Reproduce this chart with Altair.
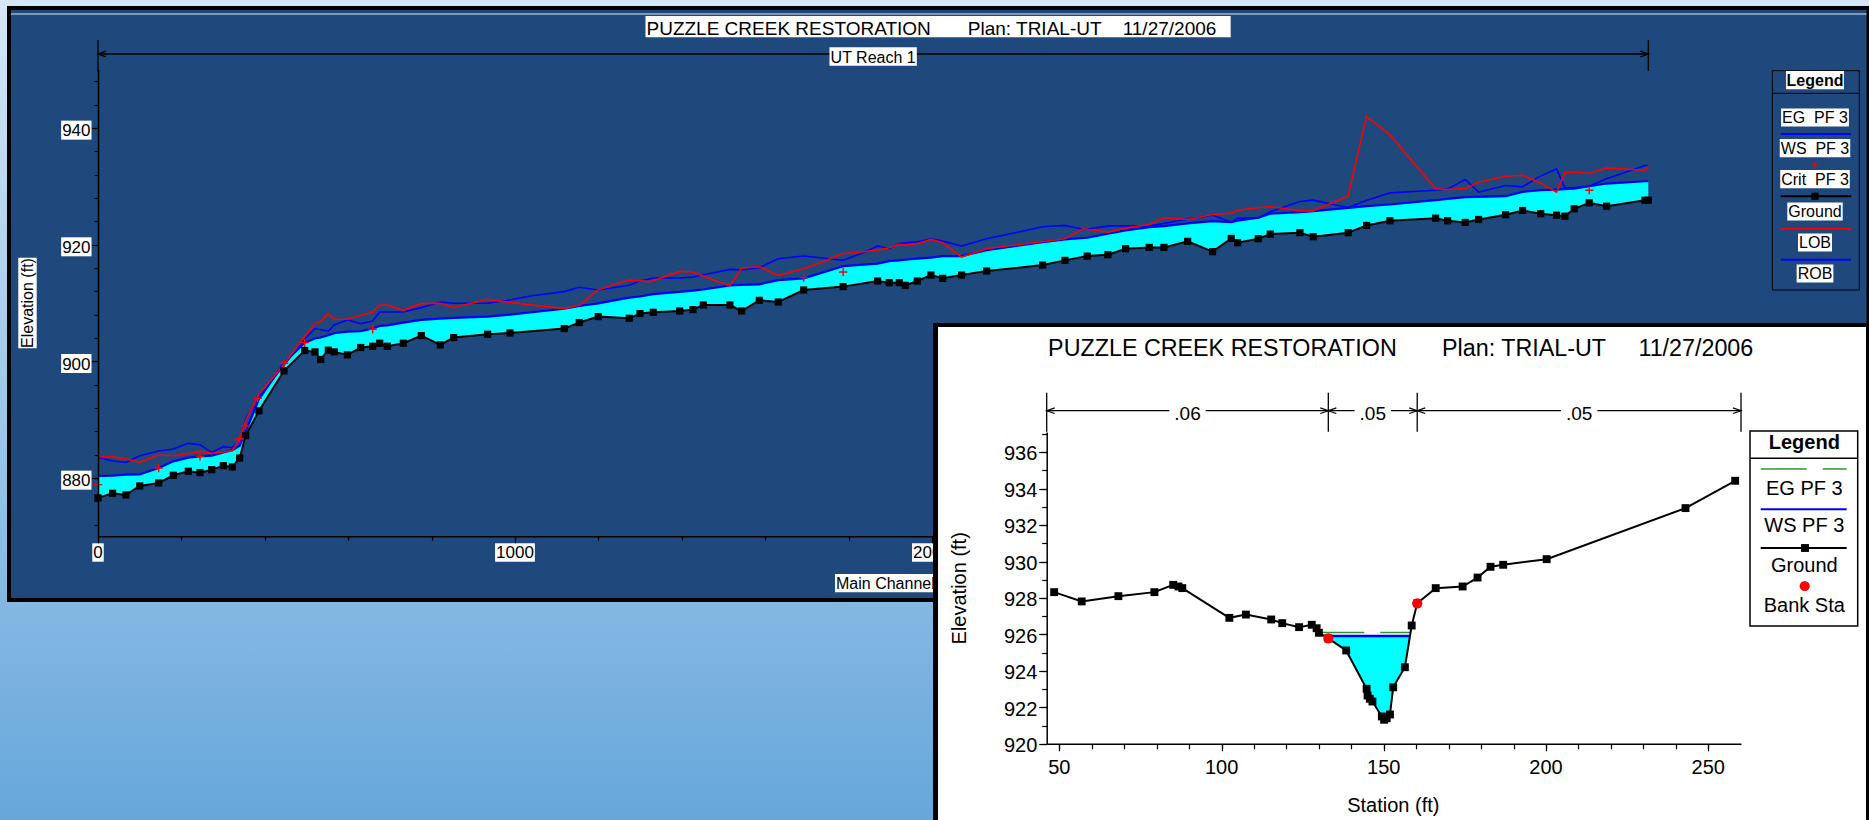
import altair as alt
import pandas as pd

FONT = "Liberation Sans"
W, H = 1869, 820

# ===================== Profile (main channel) data =====================
prof_station = [0, 35, 67, 100, 145.5, 180.6, 216.6, 244.6, 272.7, 300.5,
                322, 339.7, 354, 386, 446, 495.7, 520.4, 534, 552.3, 566.7,
                598, 630, 658.8, 675.5, 693.8, 732.2, 775.3, 821, 853, 934.5,
                988, 1118.2, 1154.2, 1199.8, 1274.1, 1299.8, 1331.7, 1395, 1426.9, 1451.6,
                1515.6, 1543.6, 1585.9, 1631.4, 1692.3, 1787, 1869.6, 1897.6, 1921.6, 1936,
                1964.8, 1997.6, 2025.7, 2071.2, 2131.2, 2265.5, 2319, 2372.4, 2422, 2464.5,
                2521.1, 2556.4, 2613.2, 2673.1, 2717.8, 2733.1, 2782.5, 2811.3, 2882.5, 2914.4,
                2998.3, 3042.4, 3098.3, 3207.9, 3236.7, 3278.9, 3311, 3375.8, 3416.5, 3460,
                3498, 3518, 3540.3, 3576.3, 3618, 3709.8, 3718]
prof_ground = [876.58, 877.38, 877.09, 878.63, 879.14, 880.46, 881.15, 880.91, 881.42, 882.11,
               881.88, 883.42, 887.24, 891.51, 898.36, 901.85, 901.61, 900.31, 901.9, 901.61,
               901.1, 902.36, 902.58, 903.1, 902.58, 903.1, 904.41, 902.81, 904.07, 904.64,
               904.86, 905.61, 906.64, 907.66, 907.37, 908.18, 908.4, 908.62, 908.86, 909.65,
               909.65, 908.62, 910.45, 910.16, 912.22, 912.8, 913.76, 913.48, 913.48, 913.02,
               913.76, 914.78, 914.22, 914.78, 915.47, 916.49, 917.3, 918.03, 918.27, 919.3,
               919.52, 919.52, 920.55, 918.79, 921.06, 920.32, 921.01, 921.8, 922.04, 921.35,
               922.04, 923.29, 924.09, 924.53, 924.09, 923.8, 924.31, 925.12, 925.85, 925.3,
               925.05, 924.88, 926.14, 927.17, 926.59, 927.61, 927.61]
prof_ws = [880.34, 880.40, 880.57, 880.63, 881.71, 882.85, 883.48, 883.71, 883.82, 884.39,
           884.74, 885.53, 887.92, 893.5, 899.7, 903.2, 903.9, 904.07, 904.46, 904.81,
           905.09, 905.15, 905.61, 906.06, 906.17, 906.64, 907.09, 907.32, 907.43, 907.66,
           908.0, 909.0, 909.48, 909.94, 910.9, 911.1, 911.5, 911.9, 912.1, 912.3,
           913.02, 913.1, 913.2, 913.9, 914.2, 916.3, 916.73, 917.18, 917.3, 917.4,
           917.59, 917.76, 918.04, 918.04, 919.06, 920.43, 920.89, 921.18, 921.86, 922.43,
           923.0, 923.17, 923.63, 924.02, 923.85, 924.1, 924.6, 925.29, 925.56, 925.74,
           926.31, 926.59, 926.88, 927.61, 927.85, 928.13, 928.19, 928.3, 929.05, 929.32,
           929.44, 929.5, 929.61, 930.0, 930.47, 930.86, 930.86]
lob_station = [0, 35, 67, 100, 145.5, 180.6, 216.6, 244.6, 272.7, 300.5,
               322, 339.7, 354, 386, 446, 495.7, 520.4, 534, 552.3, 566.7,
               598, 630, 658.8, 675.5, 693.8, 732.2, 775.3, 821, 853, 934.5,
               988, 1116, 1156, 1197, 1232, 1274, 1324, 1395, 1424, 1452,
               1492, 1516, 1544, 1586, 1631, 1692, 1739, 1787, 1835, 1870,
               1898, 1922, 1936, 1965, 1998, 2026, 2071, 2131, 2211, 2319,
               2363, 2422, 2464.5, 2521, 2556, 2613, 2673, 2718, 2733, 2782.5,
               2811, 2882.5, 2914, 2998, 3042, 3098, 3208, 3237, 3279, 3311,
               3376, 3416.5, 3456, 3498, 3518, 3540, 3576, 3618, 3710, 3718]
lob_elev = [883.65, 883.65, 883.25, 882.68, 883.94, 883.82, 884.16, 884.56, 884.22, 884.45,
            884.68, 886.67, 889.81, 894.37, 899.5, 904.35, 906.46, 906.8, 908.17, 907.2,
            907.2, 907.89, 908.46, 909.66, 909.66, 908.74, 909.88, 909.94, 909.2, 910.62,
            910.1, 909.03, 909.65, 912.16, 913.02, 913.93, 913.65, 915.41, 915.3, 914.62,
            913.48, 913.02, 915.98, 916.21, 914.73, 915.87, 917.07, 918.49, 918.78, 919.06,
            919.46, 920.03, 919.92, 920.15, 920.89, 920.32, 917.87, 919.29, 920.03, 921.0,
            922.71, 922.14, 922.83, 923.46, 924.6, 924.31, 925.17, 925.39, 925.91, 926.31,
            926.54, 925.79, 925.79, 928.3, 941.99, 938.85, 929.56, 929.44, 929.61, 930.7,
            931.72, 931.9, 930.7, 928.99, 932.3, 932.47, 932.18, 933.15, 932.75, 933.44]
rob_station = [0, 35, 67, 100, 145.5, 180.6, 216.6, 244.6, 272.7, 300.5,
               322, 339.7, 354, 386, 446, 495.7, 520.4, 552.3, 566.7, 598,
               630, 658.8, 675.5, 732.2, 775.3, 821, 853, 934.5, 988, 1036,
               1118, 1154, 1200, 1274, 1300, 1332, 1395, 1427, 1452, 1516,
               1544, 1586, 1631, 1692, 1739, 1787, 1835, 1870, 1898, 1922,
               1965, 1998, 2026, 2071, 2131, 2211, 2265.5, 2319, 2363, 2422,
               2464.5, 2521, 2613, 2673, 2718, 2733, 2782.5, 2811, 2882.5, 2914,
               2998, 3042, 3098, 3208, 3237, 3279, 3311, 3376, 3416.5, 3456,
               3498, 3518, 3540, 3576, 3618, 3710, 3718]
rob_elev = [883.54, 882.91, 882.68, 883.82, 884.62, 884.96, 885.93, 885.7, 884.39, 885.36,
            885.19, 886.39, 890.09, 893.97, 899.33, 903.78, 905.61, 905.15, 906.23, 907.09,
            906.46, 906.92, 908.46, 908.46, 909.2, 910.17, 909.94, 909.94, 910.5, 911.19,
            911.94, 912.68, 912.22, 913.02, 913.76, 914.27, 914.27, 914.44, 914.84, 915.76,
            915.64, 916.04, 917.58, 918.04, 917.7, 917.3, 918.61, 919.75, 919.29, 920.21,
            920.49, 921.0, 920.6, 919.75, 921.0, 922.2, 923.06, 923.29, 922.6, 923.17,
            923.23, 923.17, 924.37, 925.05, 923.85, 924.54, 924.54, 925.62, 927.39, 927.62,
            926.36, 927.56, 928.87, 929.33, 929.56, 931.15, 928.99, 930.13, 929.9, 931.61,
            932.98, 929.73, 929.73, 930.01, 931.27, 933.55, 933.55]
crit_station = [0, 145.5, 244.6, 339.7, 354, 383, 446, 495.7, 658.8, 1692.3, 1787, 3576.3]
crit_elev = [878.85, 881.71, 883.71, 886.72, 888.95, 893.64, 899.67, 903.2, 905.49, 914.34, 915.3, 929.32]
reach_name = "UT Reach 1"
prof_y_labels = [880, 900, 920, 940]
prof_y_minor = list(range(872, 949, 4))
prof_x_labels = [0, 1000, 2000, 3000]
prof_x_minor = list(range(0, 2001, 200))

# ===================== Cross-section data =====================
xs_station = [48.4, 56.9, 68.2, 79.3, 85.1, 86.7, 87.9, 102.4, 107.5, 115.3,
              118.7, 123.9, 127.8, 129.3, 130.0, 132.9, 138.4, 144.7, 145.0, 145.7,
              146.5, 149.4, 150.1, 150.9, 151.9, 152.9, 156.5, 158.6, 160.3, 166.0,
              174.3, 178.9, 182.9, 186.8, 200.2, 243.0, 258.3]
xs_ground = [928.32, 927.81, 928.10, 928.32, 928.72, 928.63, 928.54, 926.91, 927.09, 926.82,
             926.62, 926.40, 926.53, 926.34, 926.09, 925.78, 925.12, 923.02, 922.65, 922.47,
             922.32, 921.50, 921.32, 921.40, 921.61, 923.10, 924.20, 926.49, 927.71, 928.54,
             928.63, 929.12, 929.71, 929.82, 930.13, 932.93, 934.43]
wet_station = [131.6, 132.9, 138.4, 144.7, 145.0, 145.7, 146.5, 149.4, 150.1, 150.9, 151.9, 152.9, 156.5, 158.1]
wet_bed = [925.92, 925.78, 925.12, 923.02, 922.65, 922.47, 922.32, 921.50, 921.32, 921.40, 921.61, 923.10, 924.20, 925.92]
ws_elev = 925.92
eg_elev = 926.1
eg_start = 129.8
bank_station = [132.9, 160.3]
bank_elev = [925.78, 927.71]
n_bounds = [46.1, 132.9, 160.3, 260.1]
n_values = [".06", ".05", ".05"]
xs_y_labels = list(range(920, 937, 2))
xs_y_minor = list(range(920, 938))
xs_x_labels = [50, 100, 150, 200, 250]
xs_x_minor = list(range(50, 251, 10))

title_main = "PUZZLE CREEK RESTORATION"
title_plan = "Plan: TRIAL-UT"
title_date = "11/27/2006"

# ===================== layout (pixels) =====================
PANEL = "#1f497d"
CYAN = "#00ffff"
BLUE = "#0000ff"
RED = "#ff0000"
EGC = "#2e962e"
PX = (98.0, 1648.3)
PY = (536.3, 69.6)
PDOM_X = [prof_station[0], prof_station[-1]]
PDOM_Y = [870, 950]
IX = (1046.7, 1741.0)
IY = (743.8, 432.1)
IDOM_X = [n_bounds[0], n_bounds[-1]]
IDOM_Y = [920, 937.1]

PLUS = "M-1,0L1,0M0,-1L0,1"
LARROW = "M1,-0.7L-1,0L1,0.7"
RARROW = "M-1,-0.7L1,0L-1,0.7"

ONE = pd.DataFrame({"k": [0]})

_AW = {" ": 278, "\u00a0": 278, "(": 333, ")": 333, "-": 333, ".": 278, "/": 278, ":": 278,
       "A": 667, "B": 667, "C": 722, "D": 722, "E": 667, "F": 611, "G": 778, "I": 278, "K": 667,
       "L": 556, "M": 833, "N": 722, "O": 778, "P": 667, "R": 722, "S": 667, "T": 611, "U": 722,
       "W": 944, "Z": 611, "a": 556, "c": 500, "d": 556, "e": 556, "f": 278, "g": 556, "h": 556,
       "i": 222, "k": 500, "l": 222, "n": 556, "o": 556, "r": 333, "s": 500, "t": 278, "u": 556,
       "v": 500}
_BW = {"L": 611, "e": 556, "g": 611, "n": 611, "d": 611}


def tw(s, size, bold=False):
    return sum((_BW[c] if (bold and c in _BW) else _AW.get(c, 556)) for c in s) * size / 1000.0


def box_shape(w, h):
    if w >= h:
        r = h / w
        return f"M-1,-{r:.4f}L1,-{r:.4f}L1,{r:.4f}L-1,{r:.4f}Z", w * w
    r = w / h
    return f"M-{r:.4f},-1L{r:.4f},-1L{r:.4f},1L-{r:.4f},1Z", h * h


def sc(dom, rng):
    return alt.Scale(domain=list(dom), range=list(rng), nice=False, zero=False)


pxs, pys = sc(PDOM_X, PX), sc(PDOM_Y, PY)
ixs, iys = sc(IDOM_X, IX), sc(IDOM_Y, IY)


def ex(f, s):
    return alt.X(f, scale=s, axis=None)


def ey(f, s):
    return alt.Y(f, scale=s, axis=None)


def rect(x0, x1, y0, y1, **kw):
    return alt.Chart(ONE).mark_rect(**kw).encode(
        x=alt.value(x0), x2=alt.value(x1), y=alt.value(y0), y2=alt.value(y1))


def hline(x0, x1, y, color="black", width=1.0, dash=None):
    kw = dict(color=color, strokeWidth=width)
    if dash:
        kw["strokeDash"] = dash
    return alt.Chart(ONE).mark_rule(**kw).encode(x=alt.value(x0), x2=alt.value(x1), y=alt.value(y))


def text(x, y, s, size, align="center", bold=False, angle=0, baseline="alphabetic", color="black"):
    kw = dict(text=s, font=FONT, fontSize=size, align=align, baseline=baseline, color=color,
              fontWeight="bold" if bold else "normal")
    if angle:
        kw["angle"] = angle
    return alt.Chart(ONE).mark_text(**kw).encode(x=alt.value(x), y=alt.value(y))


def psym(x, y, shape, size, color, filled=True, sw=1.0):
    kw = dict(shape=shape, size=size, opacity=1, filled=filled, color=color)
    kw["strokeWidth"] = 0 if filled else sw
    return alt.Chart(ONE).mark_point(**kw).encode(x=alt.value(x), y=alt.value(y))


def boxed(x, base, s, size, bold=False, align="center", pad=1.0, asc=0.93, desc=0.2):
    w = tw(s, size, bold) + 2 * pad
    if align == "center":
        x0 = x - w / 2
    elif align == "left":
        x0 = x - pad
    else:
        x0 = x - w + pad
    return [rect(x0, x0 + w, base - asc * size, base + desc * size, fill="white"),
            text(x, base, s, size, align=align, bold=bold)]


def axis_layer(channel, dom, rng, values, tick, orient, offset, domain=True):
    df = pd.DataFrame({"v": [dom[0], dom[1]]})
    ax = alt.Axis(values=values, labels=False, title=None, grid=False, orient=orient,
                  offset=offset, zindex=1, domain=domain, domainColor="black", domainWidth=1.5,
                  ticks=True, tickColor="black", tickWidth=1.2, tickSize=tick)
    if channel == "x":
        enc = {"x": alt.X("v:Q", scale=sc(dom, rng), axis=ax)}
    else:
        enc = {"y": alt.Y("v:Q", scale=sc(dom, rng), axis=ax)}
    return alt.Chart(df).mark_point(opacity=0).encode(**enc)


layers = []

# ---------- background & profile panel ----------
grad = alt.Gradient(gradient="linear",
                    stops=[alt.GradientStop(color="#d5e7f6", offset=0),
                           alt.GradientStop(color="#66a7db", offset=1)],
                    x1=0, x2=0, y1=0, y2=1)
layers.append(rect(0, W, 0, H, fill=grad))
layers.append(rect(7, W, 6, 602, fill="black"))
layers.append(rect(11, 1866.5, 10, 598, fill=PANEL))
layers.append(hline(11, 1866.5, 14, "#dfe8f3", 1))

# ---------- profile plot ----------
prof_df = pd.DataFrame({"st": prof_station, "g": prof_ground, "ws": prof_ws})
lob_df = pd.DataFrame({"st": lob_station, "el": lob_elev})
rob_df = pd.DataFrame({"st": rob_station, "el": rob_elev})
crit_df = pd.DataFrame({"st": crit_station, "el": crit_elev})
reach_df = pd.DataFrame({"s0": [PDOM_X[0]], "s1": [PDOM_X[1]],
                         "mid": [(PDOM_X[0] + PDOM_X[1]) / 2], "name": [reach_name]})
reach_ends = pd.DataFrame({"s": PDOM_X})

ylab = pd.DataFrame({"v": prof_y_labels, "lab": [str(v) for v in prof_y_labels]})
yw = tw("940", 17) + 2
ylab["shape"] = box_shape(yw, 19)[0]
ylab["sz"] = box_shape(yw, 19)[1]
xlab = pd.DataFrame({"v": prof_x_labels, "lab": [str(v) for v in prof_x_labels]})
xlab["shape"] = [box_shape(tw(s, 17) + 2, 18.4)[0] for s in xlab["lab"]]
xlab["sz"] = [box_shape(tw(s, 17) + 2, 18.4)[1] for s in xlab["lab"]]
rb_shape, rb_size = box_shape(tw(reach_name, 16) + 2, 18.4)

prof = alt.layer(
    alt.Chart(prof_df).mark_area(color=CYAN, opacity=1).encode(
        x=ex("st:Q", pxs), y=ey("g:Q", pys), y2="ws:Q"),
    alt.Chart(prof_df).mark_line(color=BLUE, strokeWidth=2.2).encode(
        x=ex("st:Q", pxs), y=ey("ws:Q", pys)),
    alt.Chart(rob_df).mark_line(color=BLUE, strokeWidth=1.6).encode(
        x=ex("st:Q", pxs), y=ey("el:Q", pys)),
    alt.Chart(lob_df).mark_line(color=RED, strokeWidth=1.6).encode(
        x=ex("st:Q", pxs), y=ey("el:Q", pys)),
    alt.Chart(prof_df).mark_line(color="black", strokeWidth=2).encode(
        x=ex("st:Q", pxs), y=ey("g:Q", pys)),
    alt.Chart(prof_df).mark_point(shape="square", filled=True, color="black", size=52,
                                  opacity=1, strokeWidth=0).encode(
        x=ex("st:Q", pxs), y=ey("g:Q", pys)),
    alt.Chart(crit_df).mark_point(shape=PLUS, filled=False, color=RED, size=70,
                                  opacity=1, strokeWidth=1.4).encode(
        x=ex("st:Q", pxs), y=ey("el:Q", pys)),
    # reach bracket
    alt.Chart(reach_df).mark_rule(color="black", strokeWidth=1.3).encode(
        x=ex("s0:Q", pxs), x2="s1:Q", y=alt.value(54)),
    alt.Chart(reach_ends).mark_rule(color="black", strokeWidth=1.3).encode(
        x=ex("s:Q", pxs), y=alt.value(40), y2=alt.value(71)),
    alt.Chart(reach_df).mark_point(shape=LARROW, filled=False, color="black", size=64,
                                   opacity=1, strokeWidth=1.3, xOffset=4).encode(
        x=ex("s0:Q", pxs), y=alt.value(54)),
    alt.Chart(reach_df).mark_point(shape=RARROW, filled=False, color="black", size=64,
                                   opacity=1, strokeWidth=1.3, xOffset=-4).encode(
        x=ex("s1:Q", pxs), y=alt.value(54)),
    alt.Chart(reach_df).mark_point(shape=rb_shape, size=rb_size, filled=True, color="white",
                                   opacity=1, strokeWidth=0).encode(
        x=ex("mid:Q", pxs), y=alt.value(56.5)),
    alt.Chart(reach_df).mark_text(font=FONT, fontSize=16, color="black", baseline="alphabetic").encode(
        x=ex("mid:Q", pxs), y=alt.value(62.7), text="name:N"),
    # tick labels with white boxes
    alt.Chart(ylab).mark_point(filled=True, color="white", opacity=1, strokeWidth=0, yOffset=2.2).encode(
        x=alt.value(91.5 - yw / 2), y=ey("v:Q", pys),
        shape=alt.Shape("shape:N", scale=None, legend=None), size=alt.Size("sz:Q", scale=None, legend=None)),
    alt.Chart(ylab).mark_text(font=FONT, fontSize=17, color="black", align="right",
                              baseline="alphabetic", dy=8.4).encode(
        x=alt.value(90.5), y=ey("v:Q", pys), text="lab:N"),
    alt.Chart(xlab).mark_point(filled=True, color="white", opacity=1, strokeWidth=0).encode(
        x=ex("v:Q", pxs), y=alt.value(552.5),
        shape=alt.Shape("shape:N", scale=None, legend=None), size=alt.Size("sz:Q", scale=None, legend=None)),
    alt.Chart(xlab).mark_text(font=FONT, fontSize=17, color="black", baseline="alphabetic").encode(
        x=ex("v:Q", pxs), y=alt.value(558.3), text="lab:N"),
)
layers.append(prof)

# ---------- profile decorations ----------
top_title = title_main + "\u00a0" * 7 + title_plan + "\u00a0" * 4 + title_date
layers.append(rect(645.5, 1230.7, 16, 37.3, fill="white"))
layers.append(text(646.5, 34.5, top_title, 19, align="left"))
layers.append(rect(18.3, 36.7, 257.7, 348.3, fill="white"))
layers.append(text(27.5, 303, "Elevation (ft)", 16, angle=270, baseline="middle"))
layers += boxed(836, 589, "Main Channel Distance (ft)", 16, align="left")

LX = 1815
layers.append(rect(1772.3, 1859.3, 70.7, 290, fill=PANEL, stroke="black", strokeWidth=1))
layers.append(hline(1772.3, 1859.3, 93.3, "black", 1))
layers += boxed(LX, 86, "Legend", 16, bold=True, pad=0.5)
layers += boxed(LX, 123.3, "EG\u00a0\u00a0PF 3", 16)
layers.append(hline(1780.7, 1851, 134, BLUE, 2))
layers += boxed(LX, 154, "WS\u00a0\u00a0PF 3", 16)
layers.append(psym(LX, 165, PLUS, 50, RED, filled=False, sw=1.2))
layers += boxed(LX, 185, "Crit\u00a0\u00a0PF 3", 16)
layers.append(hline(1780.7, 1851, 196.3, "black", 2))
layers.append(psym(LX, 196.3, "square", 52, "black"))
layers += boxed(LX, 217.3, "Ground", 16)
layers.append(hline(1780.7, 1851, 228.7, RED, 2))
layers += boxed(LX, 248.3, "LOB", 16)
layers.append(hline(1780.7, 1851, 259.7, BLUE, 2))
layers += boxed(LX, 279.3, "ROB", 16)

# ---------- inset panel ----------
layers.append(rect(933, W, 323, H, fill="black"))
layers.append(rect(938, 1866, 327, H, fill="white"))

xs_df = pd.DataFrame({"st": xs_station, "el": xs_ground})
wet_df = pd.DataFrame({"st": wet_station, "bed": wet_bed})
wet_df["ws"] = ws_elev
ws_df = pd.DataFrame({"s0": [wet_station[0]], "s1": [wet_station[-1]], "el": [ws_elev]})
eg_df = pd.DataFrame({"s0": [eg_start], "s1": [wet_station[-1]], "el": [eg_elev]})
bank_df = pd.DataFrame({"st": bank_station, "el": bank_elev})
seg_df = pd.DataFrame({"s0": n_bounds[:-1], "s1": n_bounds[1:], "n": n_values})
seg_df["mid"] = (seg_df["s0"] + seg_df["s1"]) / 2
nb_w = tw(".06", 19) + 10
seg_df["shape"] = box_shape(nb_w, 20)[0]
seg_df["sz"] = box_shape(nb_w, 20)[1]
bnd_df = pd.DataFrame({"s": n_bounds})
iyl = pd.DataFrame({"v": xs_y_labels, "lab": [str(v) for v in xs_y_labels]})
ixl = pd.DataFrame({"v": xs_x_labels, "lab": [str(v) for v in xs_x_labels]})

inset = alt.layer(
    alt.Chart(wet_df).mark_area(color=CYAN, opacity=1).encode(
        x=ex("st:Q", ixs), y=ey("bed:Q", iys), y2="ws:Q"),
    alt.Chart(eg_df).mark_rule(color=EGC, strokeWidth=1.5, strokeDash=[46, 16]).encode(
        x=ex("s0:Q", ixs), x2="s1:Q", y=ey("el:Q", iys)),
    alt.Chart(ws_df).mark_rule(color=BLUE, strokeWidth=2.5).encode(
        x=ex("s0:Q", ixs), x2="s1:Q", y=ey("el:Q", iys)),
    alt.Chart(xs_df).mark_line(color="black", strokeWidth=2).encode(
        x=ex("st:Q", ixs), y=ey("el:Q", iys)),
    alt.Chart(xs_df).mark_point(shape="square", filled=True, color="black", size=62,
                                opacity=1, strokeWidth=0).encode(
        x=ex("st:Q", ixs), y=ey("el:Q", iys)),
    alt.Chart(bank_df).mark_point(shape="circle", filled=True, color=RED, size=105,
                                  opacity=1, strokeWidth=0).encode(
        x=ex("st:Q", ixs), y=ey("el:Q", iys)),
    # Manning's n brackets
    alt.Chart(seg_df).mark_rule(color="black", strokeWidth=1.2).encode(
        x=ex("s0:Q", ixs), x2="s1:Q", y=alt.value(410.7)),
    alt.Chart(bnd_df).mark_rule(color="black", strokeWidth=1.3).encode(
        x=ex("s:Q", ixs), y=alt.value(392.7), y2=alt.value(431.7)),
    alt.Chart(seg_df).mark_point(shape=LARROW, filled=False, color="black", size=64,
                                 opacity=1, strokeWidth=1.2, xOffset=4).encode(
        x=ex("s0:Q", ixs), y=alt.value(410.7)),
    alt.Chart(seg_df).mark_point(shape=RARROW, filled=False, color="black", size=64,
                                 opacity=1, strokeWidth=1.2, xOffset=-4).encode(
        x=ex("s1:Q", ixs), y=alt.value(410.7)),
    alt.Chart(seg_df).mark_point(filled=True, color="white", opacity=1, strokeWidth=0).encode(
        x=ex("mid:Q", ixs), y=alt.value(411),
        shape=alt.Shape("shape:N", scale=None, legend=None), size=alt.Size("sz:Q", scale=None, legend=None)),
    alt.Chart(seg_df).mark_text(font=FONT, fontSize=19, color="black", baseline="alphabetic").encode(
        x=ex("mid:Q", ixs), y=alt.value(420), text="n:N"),
    # tick labels
    alt.Chart(iyl).mark_text(font=FONT, fontSize=20, color="black", align="right",
                             baseline="alphabetic", dy=8.3).encode(
        x=alt.value(1037.3), y=ey("v:Q", iys), text="lab:N"),
    alt.Chart(ixl).mark_text(font=FONT, fontSize=20, color="black", baseline="alphabetic").encode(
        x=ex("v:Q", ixs), y=alt.value(774), text="lab:N"),
)
layers.append(inset)

# ---------- inset decorations ----------
inset_title = title_main + "\u00a0" * 7 + title_plan + "\u00a0" * 5 + title_date
layers.append(text(1400.7, 356, inset_title, 23.3))
layers.append(text(960, 588.3, "Elevation (ft)", 20, angle=270, baseline="middle"))
layers.append(text(1393.3, 811.7, "Station (ft)", 20))

IL = 1804.3
layers.append(rect(1750, 1857.7, 431, 626, fill="white", stroke="black", strokeWidth=1.5))
layers.append(hline(1750, 1857.7, 458.3, "black", 1.5))
layers.append(text(IL, 449.3, "Legend", 20, bold=True))
layers.append(hline(1760.7, 1846.7, 469, EGC, 1.5, dash=[46, 16]))
layers.append(text(IL, 495, "EG PF 3", 20))
layers.append(hline(1760.7, 1846.7, 509.3, BLUE, 2))
layers.append(text(IL, 532.3, "WS PF 3", 20))
layers.append(hline(1760.7, 1846.7, 548, "black", 2))
layers.append(psym(1805, 548, "square", 62, "black"))
layers.append(text(IL, 571.7, "Ground", 20))
layers.append(psym(1804.7, 586, "circle", 105, RED))
layers.append(text(IL, 611.7, "Bank Sta", 20))

# ---------- axes (ticks + domain lines) ----------
kpx = (PX[1] - PX[0]) / (PDOM_X[1] - PDOM_X[0])
vis_end = 935.0
pxa_dom = [PDOM_X[0], PDOM_X[0] + (vis_end - PX[0]) / kpx]
layers += [
    axis_layer("y", PDOM_Y, PY, prof_y_minor, 4, "left", -PX[0], True),
    axis_layer("y", PDOM_Y, PY, prof_y_labels, 6.5, "left", -PX[0], False),
    axis_layer("x", pxa_dom, (PX[0], vis_end), prof_x_minor, 4, "bottom", PY[0] - H, True),
    axis_layer("x", pxa_dom, (PX[0], vis_end), [v for v in prof_x_labels if v <= pxa_dom[1]],
               6.5, "bottom", PY[0] - H, False),
    axis_layer("y", IDOM_Y, IY, xs_y_minor, 5, "left", -IX[0], True),
    axis_layer("y", IDOM_Y, IY, xs_y_labels, 8, "left", -IX[0], False),
    axis_layer("x", IDOM_X, IX, xs_x_minor, 5, "bottom", IY[0] - H, True),
    axis_layer("x", IDOM_X, IX, xs_x_labels, 7, "bottom", IY[0] - H, False),
]

chart = alt.layer(*layers).resolve_scale(x="independent", y="independent").properties(
    width=W, height=H, autosize=alt.AutoSizeParams(type="none"), padding=0
).configure_view(stroke=None)

chart.save("out.html", embed_options={"renderer": "svg", "actions": False})
